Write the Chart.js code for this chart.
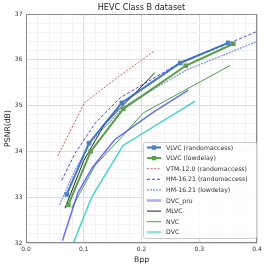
<!DOCTYPE html>
<html><head><meta charset="utf-8">
<script src="https://cdn.jsdelivr.net/npm/chart.js@4/dist/chart.umd.min.js"></script>
<style>html,body{margin:0;padding:0;background:#fff;}canvas{display:block;}</style>
</head><body>
<canvas id="c" width="266" height="268"></canvas>
<script>
const titleText = "HEVC Class B dataset";
const xTitle = "Bpp";
const yTitle = "PSNR(dB)";
const xTickLabels = ["0.0","0.1","0.2","0.3","0.4"];
const yTickLabels = ["32","33","34","35","36","37"];
const seriesNames = ["VLVC (randomaccess)","VLVC (lowdelay)","VTM-12.0 (randomaccess)","HM-16.21 (randomaccess)","HM-16.21 (lowdelay)","DVC_pro","MLVC","NVC","DVC"];

const vlvcRaBpp  = [0.0705, 0.109, 0.166, 0.267, 0.350];
const vlvcRaPsnr = [33.06, 34.18, 35.06, 35.93, 36.37];
const vlvcLdBpp  = [0.0733, 0.112, 0.1685, 0.2765, 0.359];
const vlvcLdPsnr = [32.83, 34.00, 34.93, 35.87, 36.35];
const vtmBpp  = [0.055, 0.101, 0.160, 0.223];
const vtmPsnr = [33.90, 35.06, 35.63, 36.20];
const hmRaBpp  = [0.062, 0.085, 0.120, 0.163, 0.270, 0.353, 0.400];
const hmRaPsnr = [33.37, 33.96, 34.62, 35.17, 35.96, 36.37, 36.62];
const hmLdBpp  = [0.058, 0.085, 0.115, 0.170, 0.278, 0.400];
const hmLdPsnr = [32.83, 33.60, 34.25, 34.98, 35.78, 36.40];
const dvcProBpp  = [0.063, 0.090, 0.115, 0.154, 0.220, 0.281];
const dvcProPsnr = [32.05, 33.10, 33.65, 34.26, 34.85, 35.34];
const mlvcBpp  = [0.0675, 0.100, 0.137, 0.166, 0.189, 0.223];
const mlvcPsnr = [32.76, 33.80, 34.61, 34.98, 35.27, 35.72];
const nvcBpp  = [0.079, 0.120, 0.166, 0.203, 0.354];
const nvcPsnr = [32.76, 33.70, 34.32, 34.84, 35.88];
const dvcBpp  = [0.082, 0.114, 0.168, 0.293];
const dvcPsnr = [32.00, 33.01, 34.13, 35.10];

function pts(xs, ys){ return xs.map((x,i)=>({x:x, y:ys[i]})); }

const styles = [
  {color:'rgba(45,105,190,0.9)', width:2, dash:[], marker:true, mcolor:'#4a80c4'},
  {color:'rgba(70,150,50,0.9)', width:2, dash:[], marker:true, mcolor:'#5aa048'},
  {color:'rgba(205,70,70,0.85)', width:1, dash:[2,1.5], marker:false},
  {color:'rgba(50,50,235,0.9)', width:1, dash:[3,2], marker:false},
  {color:'rgba(110,130,245,0.9)', width:1.2, dash:[2,1], marker:false},
  {color:'rgba(70,70,255,0.8)', width:1.5, dash:[], marker:false},
  {color:'#222222', width:1, dash:[], marker:false},
  {color:'#45a045', width:1, dash:[], marker:false},
  {color:'#45d2d2', width:1.5, dash:[], marker:false}
];
const seriesData = [
  pts(vlvcRaBpp, vlvcRaPsnr), pts(vlvcLdBpp, vlvcLdPsnr), pts(vtmBpp, vtmPsnr),
  pts(hmRaBpp, hmRaPsnr), pts(hmLdBpp, hmLdPsnr), pts(dvcProBpp, dvcProPsnr),
  pts(mlvcBpp, mlvcPsnr), pts(nvcBpp, nvcPsnr), pts(dvcBpp, dvcPsnr)
];

const datasets = seriesNames.map((n,i)=>({
  label:n, data:seriesData[i], showLine:true,
  borderColor:styles[i].color, borderWidth:styles[i].width, borderDash:styles[i].dash,
  backgroundColor:styles[i].marker ? styles[i].mcolor : styles[i].color,
  pointStyle:'rect', pointRadius:styles[i].marker ? 3.2 : 0, pointBorderWidth:0,
  pointBorderColor:styles[i].marker ? styles[i].mcolor : styles[i].color,
  tension:0
}));

const FONT = "'DejaVu Sans', sans-serif";

const framePlugin = {
  id:'frame',
  afterDatasetsDraw(chart){
    const {ctx, chartArea:a} = chart;
    ctx.save();
    ctx.strokeStyle = '#8a8a8a'; ctx.lineWidth = 1;
    ctx.strokeRect(Math.round(a.left)+0.5, Math.round(a.top)+0.5, Math.round(a.right-a.left)-1, Math.round(a.bottom-a.top)-1);
    // title
    ctx.fillStyle = '#222';
    ctx.font = "8.1px " + FONT;
    ctx.textAlign = 'center'; ctx.textBaseline = 'middle';
    ctx.fillText(titleText, (a.left+a.right)/2, 7.5);
    ctx.restore();
  },
  afterDraw(chart){
    const ctx = chart.ctx;
    ctx.save();
    const bx=143, by=142, bw=113, bh=96;
    ctx.fillStyle='rgba(255,255,255,0.85)';
    ctx.strokeStyle='#cccccc'; ctx.lineWidth=1;
    ctx.beginPath();
    if (ctx.roundRect) ctx.roundRect(bx+0.5,by+0.5,bw,bh,2); else ctx.rect(bx+0.5,by+0.5,bw,bh);
    ctx.fill(); ctx.stroke();
    ctx.font = "6.2px " + FONT;
    ctx.textAlign='left'; ctx.textBaseline='middle';
    seriesNames.forEach((n,i)=>{
      const y = 147.5 + 10.6*i;
      const s = styles[i];
      ctx.strokeStyle = s.color;
      let w = s.width;
      if (i===5) { ctx.strokeStyle='rgba(100,100,255,0.55)'; w = 2.5; }
      if (i===8) { w = 2.5; ctx.strokeStyle='rgba(69,210,210,0.6)'; }
      ctx.lineWidth = w;
      ctx.setLineDash(s.dash);
      ctx.beginPath(); ctx.moveTo(147,y); ctx.lineTo(161,y); ctx.stroke();
      ctx.setLineDash([]);
      if (s.marker){
        ctx.fillStyle = s.mcolor;
        ctx.fillRect(154-2.2, y-2.2, 4.4, 4.4);
      }
      ctx.fillStyle='#333';
      ctx.fillText(n, 166, y+0.5);
    });
    ctx.restore();
  }
};

function isMajor(v, step){ const r = v/step; return Math.abs(r-Math.round(r))<1e-6; }

new Chart(document.getElementById('c'), {
  type:'scatter',
  data:{datasets:datasets},
  options:{
    responsive:false, animation:false, devicePixelRatio:1,
    layout:{padding:{top:14, right:9, left:0, bottom:0}},
    plugins:{legend:{display:false}, tooltip:{enabled:false}, title:{display:false}},
    scales:{
      x:{
        type:'linear', min:0, max:0.4,
        afterFit(s){ s.height = 25; },
        border:{display:false},
        grid:{drawTicks:false, color:(c)=> isMajor(c.tick.value,0.1) ? '#dddddd' : '#f2f2f2', lineWidth:1},
        ticks:{stepSize:0.02, maxTicksLimit:100, autoSkip:false, maxRotation:0, padding:3,
          color:'#333', font:{family:FONT, size:6},
          callback:(v)=> isMajor(v,0.1) ? xTickLabels[Math.round(v/0.1)] : ''},
        title:{display:true, text:xTitle, color:'#222', font:{family:FONT, size:7.7}, padding:{top:0,bottom:3.4}}
      },
      y:{
        type:'linear', min:32, max:37,
        afterFit(s){ s.width = 26; },
        border:{display:false},
        grid:{drawTicks:false, color:(c)=> isMajor(c.tick.value,1) ? '#dddddd' : '#f2f2f2', lineWidth:1},
        ticks:{stepSize:0.2, maxTicksLimit:100, autoSkip:false, padding:3.5,
          color:'#333', font:{family:FONT, size:6},
          callback:(v)=> isMajor(v,1) ? yTickLabels[Math.round(v-32)] : ''},
        title:{display:true, text:yTitle, color:'#222', font:{family:FONT, size:7.7}, padding:{top:3,bottom:0}}
      }
    }
  },
  plugins:[framePlugin]
});
</script>
</body></html>
